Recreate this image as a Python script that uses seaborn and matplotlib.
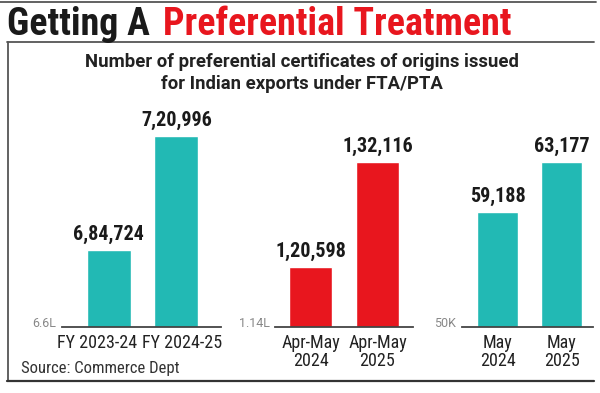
import matplotlib
matplotlib.use('Agg')
import matplotlib.pyplot as plt
import seaborn as sns
import pandas as pd
from matplotlib.lines import Line2D
from matplotlib.transforms import ScaledTranslation

# Data
fy_labels = ['FY 2023-24', 'FY 2024-25']
fy_values = [684724, 720996]
aprmay_labels = ['Apr-May\n2024', 'Apr-May\n2025']
aprmay_values = [120598, 132116]
may_labels = ['May\n2024', 'May\n2025']
may_values = [59188, 63177]
base_labels = ['6.6L', '1.14L', '50K']
base_values = [660000, 114000, 50000]

TEAL = '#22b9b4'
RED = '#e8161e'
COND = ['Roboto Condensed', 'Barlow Condensed', 'DejaVu Sans']
WIDE = ['Roboto', 'DejaVu Sans']

sns.set_theme(style='white')
plt.rcParams['font.family'] = COND


def indian(n):
    s = str(n)
    if len(s) <= 3:
        return s
    head, tail = s[:-3], s[-3:]
    parts = []
    while len(head) > 2:
        parts.insert(0, head[-2:])
        head = head[:-2]
    if head:
        parts.insert(0, head)
    return ','.join(parts) + ',' + tail


fig = plt.figure(figsize=(6, 3.93), dpi=100)
W, H = 600, 393


def fx(px):
    return px / W


def fy(py):
    return 1 - py / H


# frame lines
fig.add_artist(Line2D([0, fx(596)], [fy(1.5), fy(1.5)], color='#555555', lw=1.3))
fig.add_artist(Line2D([fx(7), fx(594)], [fy(42), fy(42)], color='#555555', lw=1.3))
fig.add_artist(Line2D([fx(8), fx(8)], [fy(42), fy(381)], color='#555555', lw=1.3))
fig.add_artist(Line2D([fx(7), fx(594)], [fy(381), fy(381)], color='#333333', lw=1.6))

# headline
fig.text(fx(7), fy(35), 'Getting A', fontsize=27.4, fontweight='heavy', color='#1a1a1a',
         ha='left', va='baseline')
fig.text(fx(163), fy(35), 'Preferential Treatment', fontsize=27.4, fontweight='heavy',
         color=RED, ha='left', va='baseline')

fig.text(0.503, fy(67), 'Number of preferential certificates of origins issued',
         fontsize=13.3, fontweight='bold', color='#222222', ha='center', va='baseline',
         family=WIDE)
fig.text(0.503, fy(89), 'for Indian exports under FTA/PTA',
         fontsize=13.3, fontweight='bold', color='#222222', ha='center', va='baseline',
         family=WIDE)

fig.text(fx(21), fy(373), 'Source: Commerce Dept', fontsize=12, color='#333333',
         ha='left', va='baseline')

panels = [
    (fy_labels, fy_values, base_values[0], base_labels[0], TEAL, 62, 159, (-0.69, 1.66), 319.3, [-12, 6]),
    (aprmay_labels, aprmay_values, base_values[1], base_labels[1], RED, 275, 138, (-0.53, 1.53), 109.8, [0, 0]),
    (may_labels, may_values, base_values[2], base_labels[2], TEAL, 462, 131, (-0.555, 1.49), 79.86, [0, 0]),
]

top_px, base_px = 100, 327
for labels, values, base, blabel, color, left, width, xlim, per_px, shifts in panels:
    ax = fig.add_axes([fx(left), fy(base_px), width / W, (base_px - top_px) / H])
    df = pd.DataFrame({'period': labels, 'count': values})
    sns.barplot(data=df, x='period', y='count', ax=ax, color=color, saturation=1,
                width=0.65)
    ax.set_xlim(*xlim)
    ax.set_ylim(base, base + (base_px - top_px) * per_px)
    ax.bar_label(ax.containers[0], labels=[indian(v) for v in values], padding=4,
                 fontsize=14.5, fontweight='bold', color='#1a1a1a')
    ax.set_xlabel('')
    ax.set_ylabel('')
    ax.set_yticks([base])
    ax.set_yticklabels([blabel], fontsize=9, color='#888888', va='baseline',
                       family=WIDE)
    ax.tick_params(axis='y', length=0, pad=4)
    ax.tick_params(axis='x', length=0, pad=5, labelsize=13, labelcolor='#222222')
    for lab, dx in zip(ax.get_xticklabels(), shifts):
        lab.set_linespacing(1.0)
        lab.set_transform(lab.get_transform() + ScaledTranslation(dx / 100, 0, fig.dpi_scale_trans))
    for side in ['left', 'top', 'right']:
        ax.spines[side].set_visible(False)
    ax.spines['bottom'].set_color('#444444')
    ax.spines['bottom'].set_linewidth(1.3)
    ax.patch.set_alpha(0)
    ax.grid(False)

fig.savefig('out.png', dpi=100)
